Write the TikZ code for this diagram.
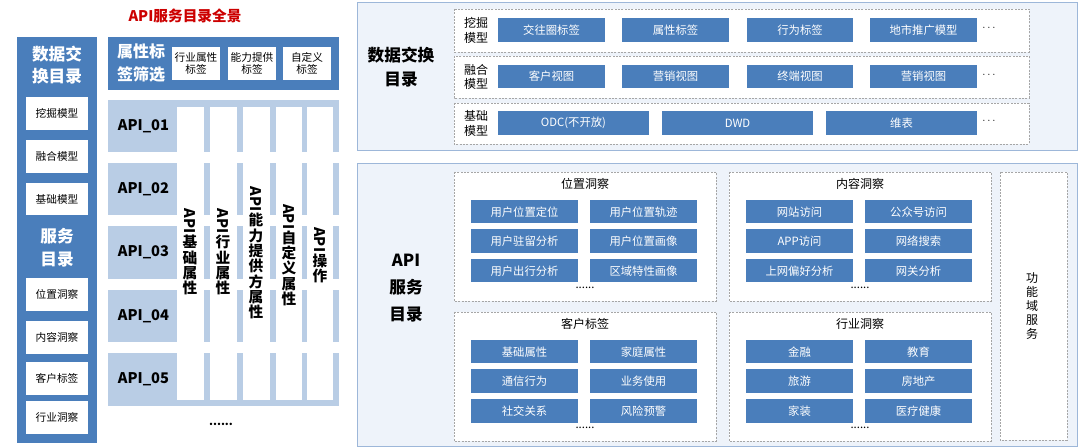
\documentclass[tikz,border=0pt]{standalone}
\usepackage{fontspec}
\setmainfont{Noto Sans CJK SC}
\usepackage{graphicx}
\usetikzlibrary{positioning}
\definecolor{dblue}{HTML}{4A7EBB}
\definecolor{lblue}{HTML}{B9CDE5}
\definecolor{pale}{HTML}{EEF3FA}
\definecolor{edge}{HTML}{9DB7D9}
\tikzset{
  blk/.style={fill=dblue, draw=none},
  wht/.style={fill=white, draw=none},
  dsh/.style={fill=white, draw=gray!70, dashed, dash pattern=on 1.5pt off 1pt, line width=0.4pt},
  lbl/.style={font=\fontsize{8.5}{10}\selectfont, align=center, inner sep=0pt},
}
%% rectangle with a named text node in its middle
\newcommand{\celltxt}[8]{\draw[#5] (#1,#2) rectangle (#3,#4);
  \node[lbl, #6] (#7) at ({(#1+#3)/2},{(#2+#4)/2}) {#8};}
\begin{document}
\begin{tikzpicture}[x=0.75pt, y=-0.75pt]
  \useasboundingbox (0,0) rectangle (1080,448);

  %% Titel
  \node[font=\fontsize{11}{12}\selectfont\bfseries, text=red!80!black] (title) at (185,16) {API服务目录全景};

  %% linke Spalte
  \draw[blk] (17,37) rectangle (97,443);
  \node[lbl, font=\fontsize{12.5}{17}\selectfont\bfseries, text=white] (dxl) at (57,65) {数据交\\换目录};
  \node[lbl, font=\fontsize{12.5}{17}\selectfont\bfseries, text=white] (fwl) at (57,248) {服务\\目录};
  \foreach \t/\a/\b/\n in {挖掘模型/97/130/m1, 融合模型/140/173/m2, 基础模型/183/215/m3,
      位置洞察/278/311/s1, 内容洞察/321/354/s2, 客户标签/362/395/s3, 行业洞察/401/434/s4}
    {\celltxt{26}{\a}{88}{\b}{wht}{font=\fontsize{8}{9}\selectfont}{\n}{\t}}

  %% Kopfzeile
  \draw[blk] (108,37) rectangle (339,90);
  \node[lbl, font=\fontsize{12}{17}\selectfont\bfseries, text=white] (sx) at (141,63) {属性标\\签筛选};
  \foreach \t/\a/\b/\n in {{行业属性\\标签}/172/220/h1, {能力提供\\标签}/228/276/h2, {自定义\\标签}/283/331/h3}
    {\celltxt{\a}{47}{\b}{80}{wht}{font=\fontsize{8}{9.5}\selectfont}{\n}{\t}}

  %% API Zeilen
  \foreach \a/\b [count=\i] in {100/152, 163/215, 226/279, 290/342, 353/406}
    {\celltxt{108}{\a}{339}{\b}{fill=lblue, draw=none}{font=\fontsize{11}{12}\selectfont\bfseries, xshift=-60pt}{api\i}{API\_0\i}}
  \foreach \a/\b [count=\i] in {177/204, 210/237, 243/270, 276/302, 307/333}
    \draw[wht] (\a,107) rectangle (\b,400);
  \foreach \x/\y/\t [count=\i] in {190/252/{基\\础\\属\\性}, 223/252/{行\\业\\属\\性}, 256/253/{能\\力\\提\\供\\方\\属\\性},
      289/255/{自\\定\\义\\属\\性}, 320/255/{操\\作}}
    \node[lbl, font=\fontsize{11}{11.5}\selectfont\bfseries] (col\i) at (\x,\y) {\rotatebox{-90}{API}\\\t};
  \node[lbl] (dotsl) at (221,424) {\textbf{......}};

  %% Datenaustausch (oben rechts)
  \draw[fill=pale, draw=edge, line width=0.6pt] (357,2) rectangle (1077,150);
  \node[lbl, font=\fontsize{12.5}{18}\selectfont\bfseries] (dx) at (401,67) {数据交换\\目录};
  \foreach \a/\b/\t [count=\i] in {9/52/{挖掘\\模型}, 56/98/{融合\\模型}, 103/144/{基础\\模型}} {
    \draw[dsh] (454,\a) rectangle (1029,\b);
    \node[lbl, font=\fontsize{9}{11}\selectfont] (row\i) at (476,{(\a+\b)/2}) {\t};
    \node[lbl] (more\i) at (989,{(\a+\b)/2-2}) {$\cdots$};
  }
  \foreach \t/\a/\b [count=\i] in {交往圈标签/498/605, 属性标签/622/729, 行为标签/747/853, 地市推广模型/870/977}
    {\celltxt{\a}{18}{\b}{42}{blk}{text=white}{a\i}{\t}}
  \foreach \t/\a/\b [count=\i] in {客户视图/498/605, 营销视图/622/729, 终端视图/747/853, 营销视图/870/977}
    {\celltxt{\a}{65}{\b}{88}{blk}{text=white}{b\i}{\t}}
  \foreach \t/\a/\b [count=\i] in {ODC(不开放)/498/649, DWD/662/813, 维表/826/977}
    {\celltxt{\a}{111}{\b}{135}{blk}{text=white}{c\i}{\t}}

  %% API Servicekatalog (unten rechts)
  \draw[fill=pale, draw=edge, line width=0.6pt] (357,163) rectangle (1077,446);
  \node[lbl, font=\fontsize{12.5}{20.5}\selectfont\bfseries] (apic) at (406,288) {API\\服务\\目录};
  \draw[dsh] (1000,172) rectangle (1067,440);
  \node[lbl, font=\fontsize{9}{10.5}\selectfont] (fy) at (1032,306) {功\\能\\域\\服\\务};
  \foreach \qx/\qy/\qt/\qn/\l in {
      454/172/位置洞察/q1/{用户位置定位,用户位置轨迹,用户驻留分析,用户位置画像,用户出行分析,区域特性画像},
      729/172/内容洞察/q2/{网站访问,公众号访问,APP访问,网络搜索,上网偏好分析,网关分析},
      454/312/客户标签/q3/{基础属性,家庭属性,通信行为,业务使用,社交关系,风险预警},
      729/312/行业洞察/q4/{金融,教育,旅游,房地产,家装,医疗健康}} {
    \draw[dsh] (\qx,\qy) rectangle ({\qx+262},{\qy+129});
    \node[lbl, font=\fontsize{9}{10}\selectfont] (\qn) at ({\qx+131},{\qy+12}) {\qt};
    \node[lbl] (\qn dots) at ({\qx+131},{\qy+116}) {......};
    \foreach \t [count=\k from 0] in \l {
      \pgfmathtruncatemacro{\c}{mod(\k,2)}
      \pgfmathtruncatemacro{\r}{div(\k,2)}
      \pgfmathsetmacro{\xa}{\qx+17+\c*119}
      \pgfmathsetmacro{\ya}{\qy+28+\r*29.5}
      \celltxt{\xa}{\ya}{\xa+107}{\ya+23.5}{blk}{text=white}{\qn c\k}{\t}
    }
  }
\end{tikzpicture}
\end{document}
